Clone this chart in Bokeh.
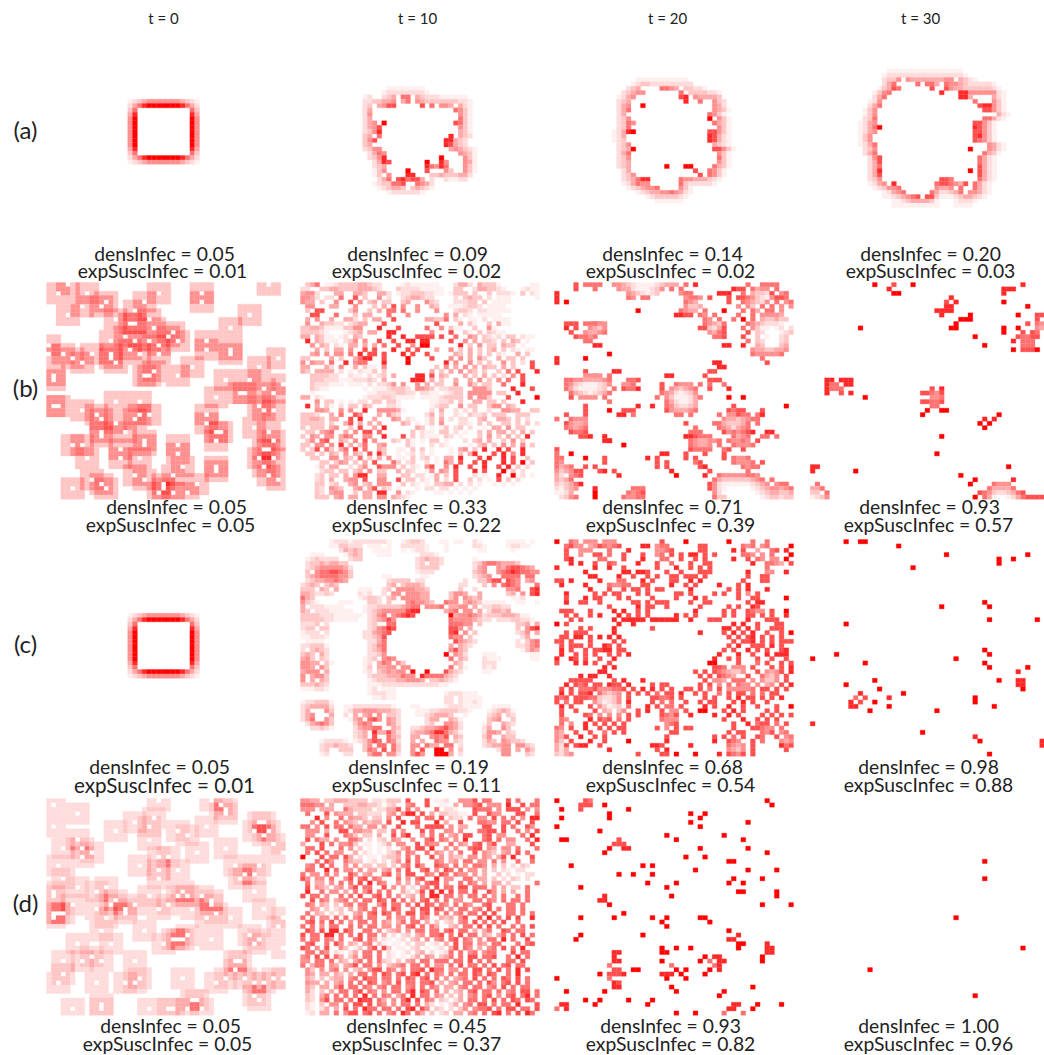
from bokeh.core.properties import value
from bokeh.embed import file_html
from bokeh.models import ColumnDataSource, Range1d
from bokeh.plotting import figure
from bokeh.resources import INLINE

times = ["t = 0", "t = 10", "t = 20", "t = 30"]
rows = ["(a)", "(b)", "(c)", "(d)"]
dens = [["0.05", "0.09", "0.14", "0.20"], ["0.05", "0.33", "0.71", "0.93"],
        ["0.05", "0.19", "0.68", "0.98"], ["0.05", "0.45", "0.93", "1.00"]]
susc = [["0.01", "0.02", "0.02", "0.03"], ["0.05", "0.22", "0.39", "0.57"],
        ["0.01", "0.11", "0.54", "0.88"], ["0.05", "0.37", "0.82", "0.96"]]

# cell levels 0-9. a line is either "col:digits col:digits" or a full row
a0 = [""] * 17 + ["17:123455555554321", "17:246899999998642", "17:36 30:63", "17:48 30:84",
                  "17:59 30:95", "17:59 30:95", "17:59 30:95", "17:59 30:95", "17:59 30:95", "17:59 30:95", "17:59 30:95",
                  "17:48 30:84", "17:36 30:63", "17:246899999998642", "17:123455555554321"]

a1 = [""] * 14 + [
    "18:11111111", "17:1222222221",
    "13:12 17:234 21:66 24:43222111111",
    "13:2233445 21:46 24:543333333221",
    "13:23 16:4577 25:7 27:6 29:554 33:421",
    "13:24 32:6531", "13:25 33:531", "13:24 33:631", "13:245 17:9 32:7631", "13:2457 33:531", "13:2358 33:431",
    "13:34 16:6 31:8 33:432", "13:357 30:88432", "13:34 30:87432", "13:2355 31:454321", "14:2465 33:5431",
    "14:2358 29:9 34:531", "15:2487 26:9 29:85 34:541", "15:234 26:86586 34:531", "15:135 22:9 26:7 30:53 34:531",
    "15:13 18:5 22:88 27:334333442", "16:246 20:786774 27:2 30:21122", "15:1233667 24:6542", "16:123443 23:34321",
    "18:12222221"]

a2 = [""] * 12 + [
    "17:11111111111", "16:1233222222222",
    "15:234 22:6654 27:33221", "14:23455 26:6 28:3333221", "13:1245 26:78 29:544443",
    "13:234 27:8 30:6 33:532", "13:245 18:9 33:542", "13:246 33:5431", "13:24 32:6531", "13:235 32:9 34:531",
    "13:2365 33:6431", "13:236 34:531", "12:12489 32:77531", "12:124 32:87421", "12:123 32:87421",
    "13:235 33:4321", "13:2349 33:77531", "13:246 34:531", "13:235 34:631", "13:234 34:531",
    "13:234 23:9 27:99 33:6431", "14:24 29:7 32:6531", "14:235 30:7 32:6531", "14:234688 26:655444321",
    "14:124655 26:63222221", "15:1234556 26:531", "17:123445565421", "19:123333321", "21:111111"]

a3 = [""] * 10 + [
    "17:1111111111111111", "16:122222222222222221",
    "16:2335 21:5444444455 32:4321", "16:246 23:6 25:664 29:65543222221",
    "15:13476 26:7 29:75443333332 40:1", "14:1356 28:8 32:88555555 40:21", "14:246 32:884 39:421",
    "13:125 35:6 39:531", "13:246 36:788531", "12:135 37:77531", "12:135 40:421", "12:236 37:66421",
    "11:1245 35:77531", "11:12469 35:87531", "11:1245 35:77531", "11:135 35:78531", "11:135 35:76531",
    "11:1246 38:5421", "12:235 34:9 38:5421", "12:246 37:6431", "13:257 36:6421", "13:247 36:6421",
    "13:246 36:7421", "13:248 34:9 36:7421", "13:247 36:7421", "13:235 28:776 36:6421",
    "13:1245 18:8 27:677654 33:7 35:6421", "14:12355 19:6 27:5445 32:6 35:6421",
    "16:12456 26:642234 32:6 34:55421", "16:1123456 23:7 25:77311123443 36:21", "18:1123444431 31:12221", "18:1111111111 31:1111"]

# white seed cells (col, row) of the two random starts, each one shades the 5x5 square round it
b0_seeds = [(2, 2), (8, 2), (23, 2), (32, 2), (32, 4), (12, 4), (20, 4), (7, 5), (11, 5), (18, 6), (4, 7), (42, 7), (14, 8), (21, 8),
            (17, 9), (18, 9), (22, 10), (26, 11), (25, 12), (38, 10), (16, 12), (27, 13), (13, 13), (18, 13), (21, 13), (33, 13), (23, 14),
            (17, 15), (33, 15), (38, 15), (38, 16), (3, 16), (9, 16), (13, 16), (13, 17), (19, 16), (23, 16), (5, 17), (7, 18), (14, 18),
            (48, 17), (44, 19), (30, 19), (22, 20), (20, 21), (21, 21), (27, 21), (37, 22), (42, 22), (45, 24), (47, 25), (40, 25), (41, 25),
            (35, 26), (1, 28), (2, 28), (14, 27), (19, 27), (7, 29), (45, 29), (47, 29), (33, 30), (10, 30), (19, 30), (21, 30), (11, 31),
            (18, 31), (43, 33), (14, 32), (33, 32), (11, 34), (11, 35), (16, 34), (35, 34), (36, 34), (35, 36), (5, 37), (7, 37), (20, 36),
            (20, 37), (27, 37), (45, 38), (46, 38), (27, 39), (15, 38), (15, 40), (8, 40), (19, 40), (47, 40), (28, 42), (35, 42), (35, 43),
            (45, 42), (18, 44), (26, 44), (46, 44), (9, 45), (20, 45), (48, 45), (11, 46), (24, 46), (5, 47), (12, 47), (24, 47), (1, 21),
            (1, 22), (4, 0), (46, 0), (0, 14), (0, 16), (23, 48), (26, 48), (29, 48), (31, 46), (44, 40), (47, 36), (46, 34), (44, 28), (49, 23)]

d0_seeds = [(1, 1), (6, 3), (1, 6), (23, 0), (22, 4), (21, 6), (18, 5), (14, 7), (27, 7), (29, 8), (33, 6), (37, 2), (37, 3), (21, 9),
            (31, 12), (37, 11), (6, 9), (7, 11), (9, 12), (7, 13), (3, 11), (2, 15), (3, 18), (23, 13), (25, 13), (19, 15), (23, 16), (27, 16),
            (23, 18), (6, 20), (12, 20), (10, 21), (1, 21), (1, 22), (14, 23), (13, 24), (18, 24), (21, 22), (25, 24), (23, 25), (5, 24), (10, 25),
            (16, 25), (16, 26), (1, 26), (1, 27), (3, 26), (12, 27), (28, 21), (27, 22), (29, 22), (32, 22), (34, 23), (34, 24), (30, 25), (35, 26),
            (33, 27), (38, 27), (45, 25), (48, 29), (49, 27), (39, 15), (44, 15), (41, 17), (43, 17), (40, 18), (43, 21), (20, 30), (11, 30), (29, 31),
            (27, 32), (26, 32), (28, 32), (24, 33), (34, 32), (42, 31), (44, 32), (43, 33), (13, 33), (6, 33), (49, 34), (9, 36), (7, 37), (11, 37),
            (3, 37), (18, 37), (3, 40), (39, 37), (40, 37), (39, 39), (37, 41), (41, 41), (2, 42), (10, 42), (19, 41), (18, 42), (16, 42), (28, 41),
            (35, 42), (43, 42), (45, 42), (47, 41), (49, 41), (43, 45), (44, 46), (5, 48), (11, 47), (11, 48), (25, 48), (26, 48), (29, 48), (30, 46),
            (31, 46), (32, 48), (21, 48), (44, 5), (45, 5), (43, 7), (46, 7), (45, 8), (47, 10), (2, 26), (36, 1), (34, 0), (49, 12)]
b0_shades = [0, 3, 5, 6, 7, 8, 9, 9, 9]
d0_shades = [0, 2, 3, 4, 6, 7, 8, 8, 9, 9, 9]

b1 = """
.346.11233 3344322... .12111111. ..2442.433 31......11
22..334433 3344432... 3222211111 ..33..2443 321...1211
4552...44. .443..442. 1223332211 .1333.3..3 .2221.3.21
5542.22.6. .7.3..5.2. .2344322.. ..2.3433.2 .111.....1
544.3..5.. 7.5.34.33. .34...532. ..22233.3. 1111......
.55...44.. .5...3.4.7 .5..5..43. .1112332.1 111.......
.3.77..... 35..3.4.66 .6..5...5. ..2332.221 1111......
..77...6.. .3.44...6. ..5.......5 .4.21.1111 1.........
.4.5..4..4 42.3.44..7 ......4433 6.31.11.2. 1111......
.5..43322. 2344...7.. ........7... .4.31..3.4 11........
3344311113 355...8... 7.....6..5 .311..3..5 1.........
333321...1 234.44..88 .......5.. .7..31.3.3 211.......
44.4311.12 .43.....8. .8..7777.7 ..6..54.32 12.33.211.
.8.43111.2 35.5..7..7 ..88.88... .7..5.4.33 2.3.43.1..
..5.43.21. 44.4.4.6.. 7..5.99... ...8.3.5.3 3.433.1...
...4.3.44. 5..7.7...8 ..7.7...4. .5.3.4.3.3 4.3.21.11.
..45.5.55. 6.8.77.7.. .8.7..7... ..43.4.3.3 .21..4.3..
33....4.3. .4688..7.. ..9....7.. .5.5.4.53. .4.33.3...
5.544.6..8 .566...8.. ..9....... 8.5..5.3.3 ..5.3.2.7.
44...42.5. .4.311.5.. ........3. 5.4.5.4.43 3.4.3...7.
43.4444.2. 1.2113.3.. .......4.3 .4.5.43.3. .3.6.7...8
..333322.. 211.2.23.4 ....88.7.4 3...4.3.4. 3.2.5.7...
..33322211 122232.4.. ...888.4.3 ..4..4.5.3 .5.6..7...
..3222111. 111.2.2235 .5..5.4.33 ..5..53.33 ..6...8...
..3211.... ...1.11123 332.5543.2 2333..5553 ....8...7.
..1....... ....112222 3322.2211. 1233.55555 .33..8....
44.21..... ...1222332 1111.11112 3333.5.553 ...7.....9
...5.33.1. 1.22.33.33 1......112 23.3..44.3 3.3...8...
.8.4.31.2. 33.43...22 1......123 3..5.33..3 55.43.....
...554..5. 5..8..5555 41.....2.4 ..2.2.3..2 ..5544..33
3332..4.6. .75...4.53 2.....24.3 ..21.3223. 333..333..
33443.44.. 7.8..4...5 4.21..13.4 .2.22..34. .443.3.2..
33333.3..4 7.4.4.4... .43.1.13.5 ...221.3.3 ..33.3.3.2
3.333.45.. 3.7..4.8.. ....43.1.1 3.23.2..1. 44.5.33...
.33.456..4 .5.77.6... ...3.211.3 3.2.1..3.4 .44.3.4.3.
3.54.55.46 5..55..8.. .7.3.2111. 32.1...3.5 .3.4.3.8..
.35.67..43 .5.7.5...3 2.31.1.33. 1...2.34.4 ..3.5.3...
33.55.5.8. 4.36..45.. ..31...2.2 1....1.34. 3.5.4.5.3.
3.37.63.46 .8.6..43.. 11.3.3.1.. .1.45.3.8. .8.7..8...
.33.3.43.5 .43.7.83.. 1.12.2.1.. .1.3.48... 7.8.5.8...
..33..55.4 3.6.3.4.5. 11.3.23.1. 44.8...7.8 ..8.7..3..
....33.354 .3.4.7...6 3.23..2.1. 64.7..7.8. ..8.7.9.3.
...13.44.. 2.35..7555 .3.21.57.. 5.8..7..8. .7.8.3.2..
....233.33 .34.5.33.. 4.32..15.5 4.7...8.7. ..9.3.2...
...23.33.4 .588..44.. .33.22.14. 3.7...2.1. .8..9.2.1.
...23.4..4 55.7..55.. 7.33.21.4. 2.7..3.2.1 .7.3.2....
...33.23.. 45.34.555. .3.21.1.33 44.2.2.1.. 1.1.1.....
...32.543. .45.47.32. 1...1.22.2 2.1.1.1... ..........
...32.455. .3.44.88.. 5.21....11 .1.1.1.... ..........
...333.45. 44.44.55.4 321....... .......... ..........
"""

b2 = [
    "4:7 6:6666 12:55432111123444 27:6 29:8 40:6 43:6666",
    "4:7 8:6 13:5442111235 24:6 26:6 37:8 38:77 41:6 42:45 44:5 46:6",
    "0:8 15:5432123 26:56 27:66 34:8 35:88 39:6 41:4332 45:7 47:5 48:6",
    "0:8 15:6 16:5 18:66 27:5665 32:7 36:7 38:7 39:765321 45:5 46:7 47:7 48:6",
    "0:8 2:9 27:654 36:7 39:65432 44:5 46:6 48:5 49:6",
    "27:5334 38:5 40:53 43:6 45:6 47:5 49:5",
    "17:9 26:6544 31:6 35:9 39:6 41:6 42:4 44:66 47:5",
    "25:88 27:77 30:65 33:6 38:6 41:6 43:5 44:5 45:5 46:54",
    "31:6 32:5 34:6 37:6 39:9 41:6 43:4 44:33 46:4 47:3 48:3",
    "2:77 4:7 6:6666 8:655 31:6543 35:6 40:6 41:5432 45:2 46:21",
    "2:8 4:7 7:543 10:5 30:77 32:3 33:2 34:4 35:7 39:6 41:5 42:3 43:1 44:1 46:1 47:2 49:2",
    "3:7 6:5 7:4 8:4 9:5 10:6 32:5 33:4 34:6 35:7 40:7 42:3 43:2 47:1 48:2 49:3",
    "4:7 5:66 7:5 8:6 33:6 34:6 35:7 39:7 42:3 44:1 47:2 48:3",
    "6:6 7:6 40:6 42:3 43:2 47:2 48:3",
    "8:88 35:88 39:8 42:4 43:3 47:3 48:4",
    "41:5 42:4 43:4 44:3 45:3 46:4 47:4 48:5",
    "11:9 41:6 42:5 43:5 44:5 45:5 46:5 47:6",
    "0:8 6:9 43:6",
    "0:8 33:88 44:7",
    "34:88",
    "6:7 12:88 32:7 33:7",
    "6:5 7:55 8:55 11:6 23:88 31:7",
    "2:66 4:5 5:544445 11:6 15:66 17:7 32:7 33:77",
    "2:65 4:3 5:21112 10:35 14:55 16:6 22:7 25:6 26:555 30:6 32:6 35:6",
    "2:6 3:4 4:2 5:1111 9:23 12:6 14:7 15:66 17:8 22:7 24:5 25:4 26:3 27:4 28:56 32:7 36:8",
    "3:6 4:4 5:3 6:2 7:1 8:2 9:3 10:4 11:6 22:6 23:5 24:4 25:2 26:1 27:2 28:3 29:5",
    "3:7 5:5555 10:6 21:6 23:5 24:3 25:1 26:1 27:1 28:2 29:4 30:6 36:9 39:9",
    "11:6 23:6 24:4 25:2 26:1 27:1 28:2 29:4",
    "6:7 17:8 20:8 23:6 24:5 25:3 26:2 27:2 28:3 29:4 37:7 48:9",
    "6:7 11:9 14:77 16:7 23:7 24:5 25:4 26:4 27:4 28:5 29:6 36:7 37:6 38:77 43:7",
    "2:7 6:7 13:88 16:6 25:6 26:6 28:6 34:6 36:5 37:5 38:7 39:6 40:6 42:6 43:8",
    "0:6 3:6 4:5 5:5 6:5 35:5 36:4 37:4 38:3 39:4 40:5 41:6 42:6",
    "2:7 3:5 4:4 5:4 6:5 27:7 33:6 34:6 35:4 36:3 37:3 38:3 39:4 40:6 42:6",
    "2:6 3:5 4:4 5:5 6:6 29:6 34:6 35:5 36:4 37:2 38:4 39:5 40:6",
    "3:7 4:6 5:6 6:7 28:6 29:6 30:6 35:7 36:5 37:6 38:5 39:6 40:7 41:8 44:88",
    "5:7 6:7 7:8 10:8 27:88 29:7 30:6 31:6 32:6 37:6 38:4 39:5 40:6 43:6 44:6 46:6",
    "10:88 11:8 28:6 29:5 30:4 31:4 32:5 33:5 34:6 36:6 37:5 38:5 39:6 40:5 42:7",
    "14:9 28:6 29:5 30:4 31:4 32:5 34:6 37:6 38:5 39:5 40:5 41:6",
    "0:7 28:7 29:6 30:6 31:6 32:6 35:6 36:7 39:7",
    "0:6 3:9 22:88 27:7 31:7 35:7",
    "0:6 1:6 6:9 10:7 19:8 21:7 27:7 29:7 35:7 37:6 38:5 39:5 40:6",
    "0:6 1:5 10:7 21:7 23:7 29:6 30:7 37:6 38:5 39:5 40:5 41:6 43:7",
    "0:6 1:4 2:5 3:6 6:7 8:7 21:7 23:7 30:7 31:8 39:6 40:5 41:6 42:6",
    "0:5 1:3 2:4 3:5 4:7 5:7 9:7 10:8 12:7 24:8 32:7 40:6",
    "0:4 1:2 3:5 4:6 5:7 13:8 25:9 31:8 34:6 35:5 36:5 37:5 38:5 39:5 40:6 41:6 42:5",
    "0:4 1:3 2:4 3:6 33:6 34:4 35:3 36:3 37:3 38:3 39:3 40:3 41:4 42:5 43:6 45:6",
    "0:3 1:2 2:3 3:4 4:6 5:8 32:7 33:5 34:2 35:1 36:1 37:1 38:1 39:1 40:1 41:2 42:3 43:4 44:5 46:5 47:6 48:6",
    "0:2 1:1 2:3 3:4 4:5 8:8 17:6 18:6 16:6 32:7 33:5 34:2 35:1 41:1 42:2 43:3 44:4 45:5 46:5 47:4 48:5 49:6",
    "0:1 1:1 2:2 3:4 8:9 15:6 16:5 17:6 18:7 33:5 34:2 42:1 43:2 44:3 45:4 46:4 47:3 48:3 49:4",
    "1:2 2:3 3:5 4:6 8:9 14:6 15:5 16:5 17:6 18:6 33:6 34:3 35:3 43:1 44:2 45:3 46:3 47:2 48:3 49:3",
]

b3 = [(14, 0, 9), (18, 0, 7), (22, 0, 9), (17, 1, 8), (18, 2, 9), (19, 2, 9), (45, 0, 8), (41, 1, 8), (42, 1, 8), (43, 1, 8),
      (41, 2, 8), (41, 4, 9), (30, 3, 8), (29, 4, 7), (31, 4, 8), (29, 5, 8), (30, 5, 8), (27, 6, 8), (28, 6, 8), (29, 6, 8),
      (30, 6, 8), (28, 7, 8), (34, 7, 9), (32, 8, 9), (33, 8, 9), (34, 8, 9), (31, 9, 9), (30, 10, 9), (31, 10, 9), (11, 10, 9),
      (35, 12, 9), (37, 14, 9), (46, 5, 9), (44, 7, 9), (48, 7, 7), (49, 7, 7), (48, 8, 7), (46, 9, 7), (48, 9, 6), (49, 9, 5),
      (41, 10, 9), (41, 11, 9), (44, 10, 9), (48, 10, 5), (49, 10, 4), (45, 11, 7), (47, 11, 7), (48, 11, 6), (44, 12, 7),
      (45, 12, 6), (46, 12, 6), (47, 12, 7), (48, 12, 7), (43, 13, 8), (45, 13, 6), (46, 13, 6), (47, 13, 6), (45, 14, 6),
      (46, 14, 6), (47, 14, 6), (43, 15, 9), (45, 15, 7), (46, 15, 7), (47, 15, 7), (48, 15, 9),
      (4, 22, 8), (5, 22, 8), (7, 22, 8), (8, 22, 8), (9, 22, 8), (4, 23, 8), (5, 23, 6), (6, 23, 6), (8, 23, 8), (9, 23, 8),
      (4, 24, 8), (5, 24, 6), (6, 24, 6), (7, 24, 6), (4, 25, 8), (7, 25, 7), (9, 25, 8), (12, 26, 9),
      (26, 24, 7), (28, 24, 8), (24, 25, 7), (25, 25, 7), (26, 25, 6), (27, 25, 5), (28, 25, 7), (26, 26, 5), (27, 26, 5), (28, 26, 6),
      (24, 27, 7), (25, 27, 7), (26, 27, 6), (27, 27, 6), (28, 27, 7), (26, 28, 6), (27, 28, 6), (25, 29, 9), (28, 29, 9), (29, 29, 9),
      (24, 30, 9), (40, 30, 9), (39, 31, 8), (37, 31, 8), (36, 32, 9), (38, 32, 9), (37, 33, 9), (28, 35, 9), (27, 39, 9),
      (42, 42, 9), (1, 42, 8), (2, 42, 8), (1, 43, 8), (10, 43, 9), (32, 44, 9), (35, 45, 9), (43, 45, 8), (34, 46, 9), (2, 46, 6),
      (1, 47, 4), (2, 47, 4), (3, 47, 6), (39, 46, 6), (40, 46, 5), (41, 46, 5), (42, 46, 5), (38, 47, 6), (39, 47, 4), (40, 47, 4),
      (41, 47, 4), (42, 47, 4), (43, 47, 6), (36, 48, 7), (37, 48, 6), (38, 48, 5), (39, 48, 3), (40, 48, 2), (41, 48, 2), (42, 48, 3),
      (43, 48, 4), (44, 48, 6), (45, 48, 7), (1, 48, 3), (2, 48, 3), (4, 48, 6), (1, 49, 1), (2, 49, 2), (3, 49, 3), (4, 49, 5),
      (35, 49, 9), (37, 49, 6), (38, 49, 4), (39, 49, 1), (42, 49, 1), (43, 49, 2), (44, 49, 4), (45, 49, 6), (46, 49, 7), (47, 49, 7),
      (48, 49, 7), (49, 49, 7)]

c1 = [
    "6:1222122222221 21:1231 24:3 25:2 29:11 32:11 36:2 37:1 43:1 44:1 45:11 48:1",
    "6:1 7:1 8:3 9:3 10:22 12:2 14:1 15:11 18:1 21:2 22:2 23:2 24:2 25:2 26:1 30:1 36:2 37:2 38:1 43:1 44:22 46:1 47:1",
    "8:2 9:4 10:3 11:4 12:3 15:1 16:1 17:1 18:1 21:1 23:1 24:2 25:2 26:1 30:1 37:1 38:1 44:1",
    "2:1 3:1 4:1 9:1 10:3 11:4 12:3 16:1 17:1 18:1 25:2 26:2 27:2 28:1",
    "1:1 2:2 3:3 4:2 5:2 6:2 7:2 10:2 11:3 12:3 24:2 25:3 26:4 27:3 28:3 29:2 36:1",
    "1:2 2:3 3:3 4:4 5:3 6:4 7:4 8:3 9:3 24:2 25:3 27:3 28:3 29:2 36:2 37:3 38:5 39:6 40:6 41:5 42:4 43:4 44:4 45:3",
    "1:2 2:3 3:4 4:5 5:5 6:5 7:5 8:5 9:4 10:2 24:2 25:3 26:3 27:3 28:3 36:2 37:4 38:5 41:5 42:4 43:6 44:7 45:7 46:6 47:5 48:4",
    "1:3 3:5 4:6 5:6 6:7 7:7 8:6 9:5 10:3 24:1 25:2 26:2 27:2 36:3 37:4 38:5 41:5 42:6 43:7 44:8 45:7 46:6 47:6 48:5 49:5",
    "1:3 2:4 3:5 4:6 5:6 6:6 7:6 8:5 9:5 10:3 17:1 18:1 25:1 26:1 36:2 37:3 38:4 39:5 42:6 43:6 44:6 45:6 47:6 48:6",
    "1:2 2:3 3:4 4:4 5:5 6:5 7:6 8:5 9:4 18:2 19:3 20:3 21:3 22:3 24:2 25:2 34:2 37:3 38:3 39:5 40:7 41:7 43:7 44:6 45:5 47:4 48:5",
    "0:2 1:3 2:4 3:3 5:3 6:4 7:3 18:3 19:4 21:3 22:4 23:4 24:4 25:3 33:2 34:2 38:3 40:5 42:6 43:7 44:6 45:5 49:6",
    "0:3 1:3 2:3 4:4 5:3 7:4 12:1 13:1 14:1 17:2 18:3 20:5 21:5 22:5 23:5 24:4 25:4 26:3 33:3 36:2 43:5 44:5 45:6 48:7 49:8",
    "0:4 1:4 2:3 3:2 4:2 5:3 6:2 12:2 13:1 14:2 17:2 19:5 20:5 22:5 23:5 24:5 25:4 26:4 31:3 32:5 33:5 34:4 37:4 43:3 44:4 46:5 48:7 49:8",
    "0:6 1:4 2:3 12:1 13:2 14:3 15:3 16:2 18:3 19:4 21:5 22:5 23:5 24:5 25:4 26:4 31:3 32:5 34:5 35:4 36:3 37:4 44:1 45:1 46:2",
    "0:5 1:3 2:2 3:1 8:1 9:1 10:1 14:3 15:3 16:2 18:3 22:5 23:6 24:5 25:5 26:4 27:3 30:6 31:5 32:5 34:4 35:5 36:4 37:3 38:1 39:1 40:1 41:1 42:1 45:1 46:1 49:1",
    "0:4 2:2 3:2 4:2 5:1 6:1 7:1 8:1 13:1 14:2 15:2 16:3 17:3 18:3 19:3 20:3 21:4 22:5 23:6 24:6 26:5 27:5 28:5 29:6 31:4 32:4 33:5 34:5 36:4 38:2 39:2 40:3 41:3 42:2 43:2",
    "0:4 1:3 3:2 4:2 5:2 6:1 7:1 8:1 9:1 10:1 13:1 14:2 15:3 16:4 17:5 18:5 19:5 20:5 21:5 22:7 23:8 24:8 30:4 31:5 32:6 34:5 35:5 37:4 39:2 40:4 41:4 42:3 43:4",
    "0:3 1:3 2:3 3:3 4:2 5:2 6:2 7:1 8:1 9:1 10:1 11:1 12:1 14:2 15:3 16:5 17:6 19:5 20:6 21:7 22:8 23:7 31:9 32:4 33:5 34:5 35:6 36:5 37:4 38:2 39:3 40:3 41:3 42:4 43:4 44:4 45:3 46:1 47:1",
    "0:3 1:3 2:3 3:3 4:3 5:2 6:2 7:1 8:1 9:1 10:1 11:1 14:2 15:3 16:4 17:5 18:7 19:5 31:6 32:5 33:5 34:5 35:5 36:4 37:3 38:2 39:2 41:2 42:2 43:2 44:3 45:3 46:2 47:2 48:1",
    "0:2 1:2 2:2 3:3 5:2 14:2 15:3 18:6 19:6 31:6 32:6 33:6 34:5 35:5 37:3 45:3 46:3 47:4 49:4",
    "0:2 1:3 2:3 4:3 5:3 14:2 15:3 16:5 17:6 18:8 19:7 31:7 32:7 33:5 35:4 45:3 47:5 48:7 49:8",
    "0:1 1:2 2:2 3:2 5:2 13:2 14:2 15:4 16:5 17:6 18:7 31:7 32:8 34:5 36:3 45:2 46:3 47:5 49:4",
    "0:1 1:1 2:2 3:2 4:2 5:1 13:2 14:2 15:3 16:4 17:7 31:6 32:5 33:5 35:3 46:2 47:4",
    "1:1 2:1 3:1 4:1 14:2 15:2 16:4 17:6 32:7 33:5 34:4 35:3 36:2 45:2 47:3 48:5 49:6",
    "0:2 1:2 2:3 3:3 4:3 5:1 14:2 15:3 16:5 17:6 31:4 33:4 34:3 35:2 45:2 46:2 47:3 48:5 49:6",
    "0:2 2:3 3:4 4:3 5:2 14:2 15:3 16:4 17:6 31:5 32:7 33:4 34:3 46:1 47:3 48:5 49:4",
    "0:3 1:4 2:3 4:4 5:2 14:2 15:2 16:3 17:5 30:9 32:5 33:4 34:2 38:1 39:1 40:1 48:1 49:1",
    "0:4 1:5 2:3 4:3 5:2 13:1 14:2 15:3 17:5 18:6 19:5 31:6 33:4 34:3 38:2 39:1 40:1 41:1 48:1 49:1",
    "0:5 1:5 2:4 3:4 5:3 6:1 13:1 14:2 16:4 17:6 18:5 20:5 21:3 32:4 33:3 38:2 39:2 40:2",
    "0:5 1:5 2:4 4:5 5:3 13:1 14:3 16:4 17:4 18:5 19:5 21:5 22:5 31:6 33:3 34:1 38:2 39:1 40:2",
    "0:4 1:5 2:5 3:5 5:4 13:1 14:2 16:3 17:4 18:5 19:4 20:5 21:5 23:9 26:9 30:7 31:4 32:3 33:2 38:1 39:1",
    "0:5 2:4 3:5 4:5 5:3 14:2 15:3 16:3 17:3 18:4 19:4 20:4 21:6 22:5 23:5 25:8 26:6 27:6 28:6 29:6 30:4 31:3 32:2",
    "0:5 2:4 4:4 5:3 14:1 15:2 16:3 17:3 18:3 19:3 20:4 21:4 22:5 23:5 24:5 25:4 27:3 28:3 29:4 30:3 31:2 32:1",
    "0:3 1:3 2:3 3:4 4:3 5:2 14:1 15:1 16:1 17:2 18:2 19:2 20:2 21:2 22:2 23:2 24:2 25:2 26:2 27:2 28:2 29:1 30:1",
    "0:1 1:1 2:1 3:2 4:2 5:1 14:1 15:2 17:1 18:1 19:1",
    "14:1 15:2 16:2 17:2 18:1 19:1 30:1 31:2 32:2 33:2 34:1 35:1 36:1",
    "15:1 16:1 17:2 18:1 19:1 30:2 31:2 33:2 34:1 35:1 36:1 37:1",
    "0:1 1:2 2:2 3:3 4:3 5:3 6:1 30:2 31:2 33:2 34:1 35:1 36:2 37:1",
    "0:2 1:3 2:4 3:4 4:4 5:4 6:2 9:1 10:1 11:2 12:2 13:2 14:2 15:2 16:2 17:2 18:2 19:1 23:1 24:1 30:1 31:2 32:2 33:2 34:1 35:1 36:1 37:1 40:1 41:1 42:1 43:1",
    "0:2 1:4 5:5 6:3 9:1 10:2 11:4 12:4 13:5 14:5 15:5 16:4 17:4 18:4 19:3 20:2 24:1 25:1 26:1 27:2 28:2 29:3 30:3 31:3 32:3 33:2 34:2 35:1 39:1 40:2 41:3 42:4 43:3 44:1",
    "0:2 1:4 2:5 6:4 9:2 11:4 13:4 14:5 16:5 18:3 19:3 20:2 24:1 25:1 26:2 27:3 28:4 29:4 30:4 31:3 34:1 39:2 40:3 41:4 43:3 44:2",
    "0:2 1:4 2:6 5:5 6:3 10:1 11:4 12:5 14:6 15:7 16:5 18:5 19:4 20:2 26:2 27:4 28:4 31:4 32:3 33:1 39:3 40:4 41:5 44:3",
    "1:2 2:4 3:5 4:6 5:5 6:3 11:3 12:5 13:6 14:5 18:5 19:4 20:2 26:2 27:3 30:5 31:5 32:4 33:2 38:1 39:3 42:4 43:3 44:2",
    "2:2 3:2 4:3 5:2 6:1 11:2 12:4 13:5 14:5 15:6 16:6 19:4 20:3 23:2 24:2 25:3 26:4 27:4 28:5 29:6 30:7 31:5 32:4 33:2 38:2 39:4 42:5 43:3",
    "11:2 12:3 13:4 15:8 16:4 17:4 18:7 19:4 20:2 23:3 24:4 25:4 26:5 27:6 28:8 29:8 30:6 31:4 32:3 33:1 38:2 39:5 40:5 41:4 43:3 44:2",
    "11:2 12:3 13:4 15:7 18:6 19:4 20:3 23:4 24:4 27:5 28:6 29:5 30:7 32:4 33:3 38:3 39:5 42:4 43:3 44:3",
    "4:1 5:2 6:2 7:2 8:2 9:1 11:1 12:2 13:3 14:5 15:7 16:6 18:6 19:5 20:2 23:4 25:4 28:6 29:5 30:5 32:3 33:2 38:2 39:4 40:3 42:5 43:4 44:3 45:3 46:2",
    "4:2 5:3 6:3 7:4 8:3 9:3 10:2 13:3 14:5 16:6 17:6 19:6 20:3 23:5 24:5 26:6 27:4 28:4 30:6 31:6 33:2 38:2 39:3 40:4 41:4 42:5 43:5 45:5 46:5 47:3 48:2",
    "4:2 5:3 8:3 9:3 10:3 13:3 14:6 15:5 17:7 19:6 20:3 23:5 25:7 28:9 29:9 31:5 33:3 41:2 42:5 43:5 45:4 47:5 48:3",
    "4:1 5:2 9:2 10:2 14:4 15:6 16:6 18:5 19:5 20:2 23:5 24:7 25:5 28:9 29:9 30:9 31:4 33:2 42:5 43:5 47:3 48:2",
]

c2 = [
    "0:9 3:65 6:555 10:555 22:7 27:9 36:9 41:6 44:6",
    "2:67 4:55 7:45 9:765 12:67 18:88 21:566 30:77 39:656 43:56 49:9",
    "2:7 5:555 11:6 15:8 21:556 24:7 30:77 37:8 39:7 42:4 45:67 48:8",
    "2:7 5:5 8:77 11:6 14:7 18:7 21:56 24:7 26:7 28:88 31:7 33:7 39:665 43:5 45:6 49:9",
    "2:78 9:66 14:7 18:8 22:66 26:7 29:7 31:7 37:8 40:7 42:65 45:55 48:9",
    "3:8 5:8 8:7 11:76 17:8 21:7 24:6 28:7 31:77 41:8 44:66 46:54 49:77",
    "0:8 8:8 11:8 14:7 21:7 25:8 28:7 30:7 32:7 44:6",
    "6:8 14:88 17:887 23:7 26:7 30:777 40:8 44:55 48:8",
    "7:88 13:8 16:7 19:7 21:7 24:77 27:777 31:7 40:7 43:77",
    "0:77 3:8 9:8 13:66 18:8 20:7 24:77 28:8 30:8 39:7 43:77",
    "1:8 6:8 11:65566 18:77 24:8 27:7 29:7 34:8 38:7 40:8",
    "7:8 11:7 14:7 16:77 19:7 21:77 28:8 36:7 38:7 40:8 44:8",
    "2:8 8:7 10:7 12:77 17:7 19:7 25:77 28:7 33:7 35:7 38:7 40:5 42:7",
    "2:7 6:8 8:77 13:7 15:7 20:7 25:7 29:8 31:7 38:7 41:77 48:9",
    "2:8 5:77 9:7 16:77 19:7 21:777 28:7 31:77 40:7 42:88",
    "11:7 17:8 19:7 20:7 23:7 30:7 36:7 38:7 41:87",
    "1:77 3:7 7:7 12:8 14:8 17:7 19:7 29:8 35:7 37:7 40:7655 45:7 48:9",
    "2:7 4:7 7:7 9:8 13:8 15:7 17:7 19:7 25:8 27:7 29:7 35:7 37:7 40:77 43:7 45:7 48:8",
    "3:7 5:7 12:8 14:888 17:88 20:888888 28:8 32:777 40:8 44:77 46:7",
    "0:9 2:7 13:8 16:8 37:8 39:8 42:7 46:77",
    "5:7 7:7 12:8 20:7 35:88 38:7 40:8 42:7 45:77 47:7",
    "2:7 4:777 12:8 30:8 35:7 37:8 39:7 41:8 44:7 47:7 49:9",
    "1:77 4:88 7:7 9:8 11:8 13:8 36:7 38:7 40:78 43:7 45:7 47:7",
    "0:77 3:7 7:7 12:7 14:7 37:7 39:7 40:78 43:7 45:7 47:777",
    "1:7 3:777 7:7 10:87 13:7 36:7 38:8 41:777 45:8 47:7",
    "1:8 3:7 6:7 8:77 10:88 13:77 35:7 37:7 40:8 42:7 44:7 47:78",
    "1:8 4:7 6:7 8:7 11:7 13:7 15:8 34:8 38:8 41:7 44:8 46:88 48:8",
    "0:8 3:87 6:7 9:7 12:8 33:8 36:7 38:7 42:7 45:7 48:7",
    "0:7 4:8 6:8 8:7 11:7 32:99 38:7 42:6 44:7 47:7 49:7",
    "10:8 12:8 33:77 35:6 37:5 38:55 41:7 45:7 47:7 49:8",
    "9:88 29:7 31:7 33:7 34:65 36:4 37:33 39:5 42:7 44:5 45:4 46:5 47:7 49:8",
    "5:8 7:88 11:8 30:7 32:7 34:7 35:6 36:5 37:4 40:7 43:6 44:4 45:3 46:5 48:7",
    "3:77 5:777 12:7 14:8 18:8 31:7 33:55 35:4 37:66 39:6 41:5 43:5 44:3 45:3 46:5 48:7",
    "2:8 4:76 6:7 8:77 11:87 13:7 15:8 20:7 22:77 30:7 32:7 34:5 36:6 38:65 40:5 42:5 44:4 45:5 47:7 49:8",
    "1:7 3:7 5:6 6:66 8:75 10:55 12:66 14:7 16:7 18:8 20:8 22:7 24:7 27:77 30:7 32:6 34:7 36:5 37:55 39:55 41:6 43:77 46:7 48:7",
    "1:8 3:7 5:77 7:8 9:6 10:4 11:3 12:45 15:7 17:7 19:7 21:6 23:77 26:8 29:7 31:7 34:6 36:7 38:77 41:6 43:6 45:77",
    "0:7 1:67 4:77 6:76 8:6 9:3 10:2 11:23 13:5 15:7 20:77 22:66 24:7 26:7 31:7 33:7 36:7 38:8 40:77 43:7 45:7 47:8",
    "0:7 2:6 4:77 8:5 9:3 10:1 11:23 13:5 15:8 20:7 22:6 24:6 27:7 30:7 32:77 37:7 39:8 41:7 44:7",
    "1:8 3:7 7:7 9:5 10:3 11:1 12:2 13:3 15:6 19:8 21:7 23:66 26:7 31:8 33:7 36:8 39:7 42:7 46:7 49:9",
    "1:7 4:7 8:7 10:4 11:3 13:3 14:5 17:7 19:8 22:7 24:5 25:5 27:7 30:99 35:7 37:8 39:7 44:7 46:7",
    "1:7 6:7 7:6 9:5 11:5 13:5 15:7 17:7 22:7 23:6 24:5 25:7 28:8 33:8 36:8 38:7 43:7 45:7 47:7 49:77",
    "1:6 2:5 7:8 9:76 11:7 13:6 15:7 22:66 23:5 24:5 25:5 35:7 39:8 42:7 44:7 46:7",
    "1:6 3:5 6:8 8:7 10:7 12:7 14:7 23:5 24:6 25:7 37:7 40:8 42:6 43:77 46:6 48:7",
    "0:6 1:5 3:7 6:8 9:7 11:7 13:77 21:7 23:5 25:7 27:77 37:7 41:77 43:6 44:5 45:5 47:6",
    "0:5 1:4 4:7 7:7 10:6 12:7 14:7 24:77 36:7 38:77 43:6 44:5 45:7 47:5 48:6",
    "0:5 1:4 2:7 5:8 8:7 10:7 23:7 33:7 35:7 37:6 39:7 42:7 43:6 46:7 48:5 49:6",
    "0:5 1:3 3:7 7:8 10:7 15:9 23:8 33:8 36:7 37:6 38:5 41:7 43:6 47:5 48:4 49:5",
    "0:4 1:2 2:7 4:7 5:88 9:7 20:88 22:7 28:8 36:6 37:5 38:4 39:5 41:7 47:8 48:6 49:7",
    "0:4 1:2 2:4 11:8 21:7 23:8 36:5 37:4 38:3 39:5 41:7 48:7",
    "0:3 1:2 2:4 3:5 17:7 22:77 25:9 29:9 34:8 36:7 37:6 38:5 39:7 41:7",
]

c3 = [(8, 0, 9), (11, 0, 9), (12, 0, 9), (19, 1, 9), (29, 3, 9), (40, 4, 9), (40, 5, 9), (43, 4, 9), (46, 3, 9), (22, 6, 9),
      (28, 15, 9), (37, 14, 9), (38, 15, 9), (38, 18, 9), (48, 18, 9), (8, 19, 9), (37, 25, 9), (38, 26, 9), (1, 27, 9), (6, 26, 9),
      (31, 27, 9), (12, 28, 9), (37, 28, 9), (38, 29, 9), (46, 29, 9), (44, 30, 8), (14, 32, 9), (40, 32, 9), (8, 33, 9),
      (44, 32, 8), (45, 32, 8), (44, 33, 8), (45, 33, 8), (45, 34, 9), (15, 34, 9), (11, 35, 8), (20, 35, 9), (10, 36, 6), (12, 36, 7),
      (17, 36, 8), (35, 36, 9), (35, 37, 9), (9, 37, 8), (11, 37, 7), (14, 37, 9), (9, 38, 8), (10, 38, 8), (17, 38, 9), (39, 38, 9),
      (13, 39, 9), (27, 39, 9), (1, 42, 8), (24, 44, 9), (35, 45, 8), (36, 46, 9), (49, 46, 8), (49, 47, 8), (38, 49, 9)]

d1 = """
5544.33444 3333.22133 3.7...7.11 2..5557.66 ...7.6...6
66655.4..3 3344332.23 ..56..7..1 1.4.5567.5 55.8..7.66
555.444..6 43333.2244 7.6.5...6. 221...7666 .5.777.5.5
.6...7.544 4.33222.45 .588.7.4.3 32211.7..7 55...77..6
...8.5..6. 5443.33.5. 7...6.66.7 .322.6.55. 7.6.6.5.88
..5.7..6.5 43.4344.7. .8.77...8. 4..7...665 5.66.7..7.
66.5.7.66. 644.55.5.. 7...6.7777 .5.44...77 ..7.6..75.
.555.4..77 .5544.33.6 .5...7.6.. 55.5...667 7.7..6.5.7
.55..7...6 53.33.4..7 .68..5.6.6 .45.77..67 .55...6.8.
.7.644.5.. 664.2.23.5 4..5..67.6 5.5.8...67 .6.55..6.8
4...7.6.55 63.11.124. 55..7.655. .6.54.67.5 7..44...7.
.66.7...6. 5.3.1.1.2. .46.77.8.. 5.5..677.5 4.55.6...6
.6.7.6.55. .4.21.1.23 5.65..6.54 .4.6..7.54 3.45.7.6..
9...7.66.7 4.2.11.233 4.6.6..7.5 .433.55.54 .47.8...7.
...6.75..6 433.12.2.3 5.7.6...65 .45.66.55. 6.5..6..6.
.56.7.6..5 .5.33.33.3 .56.75..76 5.6.5.665. 4.3.2.32..
.66..8.6.5 5.5.44.45. 6.7..67.5. 76.6.55.4. 3.21.22...
6.55.6.5.. 75.45..67. 5.77..65.7 6.655.5.4. .3.2.1.22.
75.55.6..5 7.67.65... 6.5.67..8. 55..66.44. 3.2.32.2..
.6.44.5.6. 6.7.8.65.. 5.4.5.677. 5..6.65.4. 44.3.....6
.7.543.45. 57.66..7.5 .4.2.56.7. 66.77.666. 5.4.33.6..
.8..6.55.4 .6.57.6.6. .42.37.8.8 .7.66.7..7 5.4.4..6..
7.66.5..6. 6.7..67.6. 5.34.6.88. 66.5.66.6. 5.6..6.6..
..7.65.456 .5.66.76.7 .6.5.67.6. 6.55..66.6 5.6.66.6..
.65.43.3.5 6.66..57.6 6.6.7.76.6 5.6.65..67 ...66.6...
..54.3.23. 4.56.6.6.7 6..6.77.76 .5.66.56.7 .6.66.6...
.6.43.2.3. .45.67.76. 6.77.67.6. 6.56.66.7. 7..66.6.6.
6.6.55.6.6 .56.66..6. 55.6.65..4 34.57..7.8 .6.7.7..8.
.67.6.7.6. 5.66.6.54 .46.66.4.3 .23.56.7.6 .6.7..6...
6.6.5.66.. 6.6.66.55 .5.67.6.64 ..34.66.7. 7.6..6.6.7
.76.7.88.7 6..66.5.34 5.5.66.66. 67.66.4.46 ..76.66...
7.66.88.6. 6.7.66.4.2 .23.45.66 7.6.7.66.4 3.46.6.7.6
6.66.65.6. .67.64.21. 12.34.5.56 .67.65.5.6 6.8.6..7..
.67..6.75. 43.56.31.1 1.2.33.12. 4.7.66.54. 66...6.67.
76.5.7..53 .13.57.73. 11.23.1.12 .47.65.4.5 6.7.6.8...
.66.65.21. 24.66.6.21 .12.34.2.1 26.6.56.56 6...7.66..
56.7.7.64. 35.66.6.21 .1.24.54.3 46.6.77.66 7..6.8.6..
55.66.6.43 .46.6.632. 3.45.66.66 6.66.7.6.6 ...66.7...
6.466.54.4 57.66.5.34 56.66.6.55 .6.7.66.6. 7.67.66...
.53.5.56.5 .34.577.65 .5.667.86 6.55.6.77. 6.7.6.8.7.
.54.44.43. 4.66.6.76. 67.78.6.65 .6.66.76.7 6..6.8....
.43.3.344. 56.766.66. 6.76.67.6. 5.456.7.6. 6.76.7.6..
.544.4.45. 6.6.76.56. 7.66.667.4 .45.66.6.7 5.67.7.6..
.43.44.57 .66.65.56. 66.56.6.65 .44.56.66. 56.7.6.66.
.42.3.4.66 .67.65.5.6 6.68.76.6. 4.34.67.66 .6.56.77.6
.32.46.6.6 .6.8.6.65. 46.8.66.54 .3.4.56.67 .5.67.68.6
.32.57.66. 6.877.64.5 .68.7.65.3 2.24.66.6. 7.6.76.76.
.21.3.55.6 .77.7.65.5 .66.6.42.1 .24.56.77 .6.66.8...7
.21.24.4.7 .6.866.66. 6.78.75.32 .2.35.566 7.6.77.66.7
.12.44.6.5 77.67.6.56 .86.64.3.2 3.44.56.6 .78.6.7.86.
"""

d2 = [(0, 0, 9), (6, 0, 7), (7, 0, 6), (5, 1, 7), (6, 1, 7), (7, 1, 7), (5, 2, 7), (1, 2, 9), (10, 1, 9), (15, 2, 9), (11, 3, 9), (11, 4, 9),
      (1, 4, 9), (0, 6, 9), (9, 7, 9), (1, 9, 9), (2, 9, 9), (13, 9, 7), (12, 10, 7), (13, 10, 7), (14, 10, 7), (11, 11, 9), (14, 11, 8),
      (15, 11, 8), (10, 12, 9), (3, 15, 9), (18, 15, 9), (20, 15, 9), (13, 17, 9), (16, 17, 9), (20, 17, 9), (19, 19, 9), (5, 20, 9),
      (10, 22, 8), (9, 23, 8), (10, 23, 8), (11, 24, 9), (14, 26, 9), (5, 27, 9), (12, 27, 9), (20, 27, 9), (23, 27, 9), (22, 28, 9),
      (23, 29, 9), (5, 31, 9), (4, 32, 9), (18, 31, 9), (12, 35, 8), (13, 35, 8), (12, 36, 8), (12, 37, 8), (13, 37, 8), (11, 38, 6),
      (12, 39, 7), (13, 39, 7), (9, 40, 9), (11, 40, 7), (12, 40, 7), (13, 40, 7), (14, 40, 8), (11, 41, 6), (16, 39, 9), (17, 39, 9),
      (12, 42, 8), (13, 42, 7), (12, 43, 8), (13, 43, 8), (0, 41, 9), (2, 44, 9), (10, 44, 9), (6, 46, 9), (9, 46, 9), (8, 47, 9),
      (15, 46, 9), (20, 46, 9), (19, 47, 9), (1, 47, 8), (2, 47, 8), (0, 48, 6), (2, 48, 8),
      (28, 3, 9), (31, 3, 9), (30, 4, 9), (28, 5, 9), (30, 6, 9), (40, 5, 9), (23, 8, 9), (25, 9, 9), (35, 8, 9), (39, 9, 9), (30, 11, 9),
      (40, 11, 9), (44, 12, 9), (27, 13, 9), (31, 13, 9), (36, 14, 9), (37, 14, 9), (29, 16, 9), (40, 16, 9), (46, 16, 9), (37, 18, 9),
      (43, 18, 9), (36, 19, 9), (39, 19, 9), (25, 19, 9), (23, 20, 9), (24, 22, 9), (38, 21, 9), (39, 21, 9), (46, 21, 9), (46, 22, 9),
      (43, 24, 9), (49, 24, 9), (30, 27, 9), (31, 27, 9), (32, 28, 9), (36, 30, 9), (38, 31, 8), (36, 32, 8), (37, 32, 8), (38, 33, 9),
      (39, 33, 9), (38, 34, 9), (44, 33, 8), (44, 34, 8), (45, 34, 8), (44, 35, 8), (45, 35, 8), (43, 36, 9), (43, 37, 9), (22, 34, 9),
      (22, 35, 9), (23, 35, 9), (25, 34, 9), (28, 34, 9), (22, 37, 9), (24, 38, 6), (25, 39, 9), (27, 39, 9), (22, 40, 8), (23, 40, 8),
      (24, 40, 8), (23, 41, 9), (26, 40, 9), (27, 41, 9), (31, 36, 9), (30, 37, 9), (32, 37, 6), (33, 36, 8), (34, 36, 8), (34, 37, 8),
      (35, 37, 8), (33, 38, 6), (34, 38, 8), (32, 39, 9), (34, 39, 8), (31, 40, 9), (24, 43, 9), (25, 44, 9), (41, 43, 9), (35, 44, 9),
      (34, 45, 9), (37, 47, 8), (38, 47, 8), (36, 48, 8), (37, 48, 8), (35, 49, 6), (39, 49, 6), (41, 48, 9), (42, 47, 9), (47, 47, 9),
      (25, 49, 9), (29, 49, 9), (44, 0, 9), (45, 1, 9)]

d3 = [(37, 14, 9), (37, 18, 9), (31, 27, 9), (45, 34, 9), (13, 39, 9), (35, 45, 9)]

px = [46, 300, 554, 805]
py = [25, 282, 539, 798]
cw, chh = 4.78, 4.335
shades = ["#ffffff", "#fff0f0", "#ffdcdc", "#ffc6c6", "#ffaaaa", "#ff9090", "#ff7272", "#ff5050", "#ff2828", "#ff0000"]


def read_cells(data):
    if isinstance(data, str):
        data = data.strip("\n").split("\n")
    if data and isinstance(data[0], tuple):
        return data
    cells = []
    for i, line in enumerate(data):
        if ":" in line:
            for tok in line.split():
                start, digits = tok.split(":")
                for k, d in enumerate(digits):
                    cells.append((int(start) + k, i, int(d)))
        else:
            for j, d in enumerate(line.replace(" ", "")[:50]):
                if d != ".":
                    cells.append((j, i, int(d)))
    return cells


def stack_seeds(seeds, levels):
    counts = {}
    for sc, sr in seeds:
        for j in range(sc - 2, sc + 3):
            for i in range(sr - 2, sr + 3):
                counts[(j, i)] = counts.get((j, i), 0) + 1
    return [(j, i, levels[min(n, len(levels) - 1)]) for (j, i), n in counts.items()
            if (j, i) not in seeds and 0 <= j < 50 and 0 <= i < 50]


panels = {(0, 0): a0, (0, 1): a1, (0, 2): a2, (0, 3): a3,
          (1, 0): stack_seeds(b0_seeds, b0_shades), (1, 1): b1, (1, 2): b2, (1, 3): b3,
          (2, 0): a0, (2, 1): c1, (2, 2): c2, (2, 3): c3,
          (3, 0): stack_seeds(d0_seeds, d0_shades), (3, 1): d1, (3, 2): d2, (3, 3): d3}

xs, ys, cols = [], [], []
for (r, c), data in panels.items():
    for j, i, lvl in read_cells(data):
        if j < 50 and i < 50:
            xs.append(px[c] + (j + 0.5) * cw)
            ys.append(py[r] + (i + 0.5) * chh)
            cols.append(shades[lvl])

p = figure(width=1044, height=1055, x_range=Range1d(0, 1044), y_range=Range1d(1055, 0),
           output_backend="svg", toolbar_location=None, x_axis_type=None, y_axis_type=None, min_border=0)
p.outline_line_color = None
p.grid.visible = False
p.rect("x", "y", width=cw, height=chh, fill_color="c", line_color="c", line_width=0.3,
       source=ColumnDataSource(dict(x=xs, y=ys, c=cols)))

tx = [163, 417, 667, 920]
p.text(tx, [17] * 4, text=times, text_font=value("Lato"), text_font_size="15px", text_align="center",
       text_baseline="middle", text_color="#222222")
ly = [129, 387, 643, 902]
p.text([25] * 4, ly, text=rows, text_font=value("Lato"), text_font_size="24px", text_align="center",
       text_baseline="middle", text_color="#222222")

dx = [[164, 417, 672, 930], [176, 416, 672, 929], [159, 418, 672, 928], [170, 416, 670, 928]]
ex = [[162, 416, 670, 930], [170, 416, 670, 928], [164, 416, 670, 928], [167, 416, 670, 928]]
dy = [253, 506, 766, 1025]
ey = [270, 524, 784, 1043]
for r in range(4):
    for c in range(4):
        p.text([dx[r][c]], [dy[r]], text=[f"densInfec = {dens[r][c]}"], text_font=value("Lato"),
               text_font_size="19.3px", text_align="center", text_baseline="middle", text_color="#222222")
        size = "20.6px" if (r, c) == (2, 0) else "19.3px"
        p.text([ex[r][c]], [ey[r]], text=[f"expSuscInfec = {susc[r][c]}"], text_font=value("Lato"),
               text_font_size=size, text_align="center", text_baseline="middle", text_color="#222222")

open("out.html", "w").write(file_html(p, INLINE))
